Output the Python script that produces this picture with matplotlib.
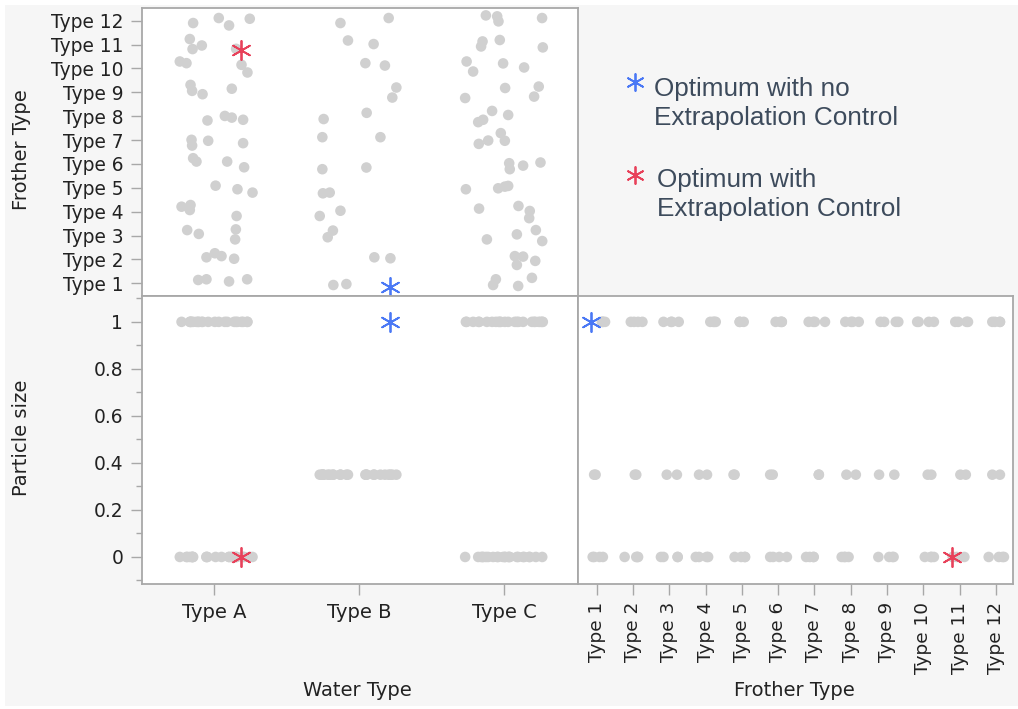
import numpy as np
import matplotlib
matplotlib.use('Agg')
import matplotlib.pyplot as plt
from matplotlib.patches import Rectangle
from matplotlib.ticker import MultipleLocator

# categories
water_types = ['Type A', 'Type B', 'Type C']
frother_types = ['Type %d' % i for i in range(1, 13)]

# runs per water type: frother level, particle size, and the jitter offsets seen in the plot
a_frother = [12, 12, 12, 12, 11, 11, 11, 11, 10, 10, 10, 10, 9, 9, 9, 9, 8, 8, 8, 8, 7, 7, 7, 7,
             6, 6, 6, 6, 5, 5, 5, 4, 4, 4, 4, 3, 3, 3, 3, 2, 2, 2, 2, 1, 1, 1, 1]
a_particle = [1, 1, 0, 0, 1, 0, 1, 0, 0, 0, 1, 1, 1, 0, 1, 0, 0, 1, 0, 1, 1, 0, 1, 0,
              0, 1, 1, 0, 0, 1, 0, 1, 1, 0, 0, 0, 1, 1, 0, 0, 1, 0, 1, 1, 0, 0, 1]
a_water_jit = [-0.147, 0.030, 0.101, 0.244, -0.170, -0.151, -0.087, 0.150, -0.239, -0.193, 0.187, 0.228,
               -0.165, -0.154, -0.082, 0.120, -0.048, 0.072, 0.120, 0.198, -0.158, -0.154, -0.043, 0.198,
               -0.147, -0.124, 0.088, 0.205, 0.008, 0.159, 0.263, -0.227, -0.165, -0.170, 0.153,
               -0.188, -0.108, 0.148, 0.143, -0.055, 0.003, 0.049, 0.136, -0.112, -0.055, 0.101, 0.226]
a_frother_jit = [-0.10, 0.11, -0.20, 0.08, 0.23, -0.19, -0.04, -0.18, 0.29, 0.22, 0.15, -0.17,
                 0.31, 0.06, -0.08, 0.15, -0.18, 0.01, -0.06, -0.15, 0.01, -0.23, -0.03, -0.13,
                 0.24, 0.10, 0.10, -0.14, 0.09, -0.06, -0.20, 0.21, 0.28, 0.07, -0.18,
                 0.23, 0.07, 0.26, -0.16, 0.09, 0.26, 0.14, 0.03, 0.14, 0.17, 0.08, 0.17]

b_frother = [12, 12, 11, 11, 10, 10, 9, 9, 8, 8, 7, 7, 6, 6, 5, 5, 4, 4, 3, 3, 2, 2, 1, 1]
b_particle = [0.35, 0.35, 0.35, 0.35, 0.35, 0.35, 0.35, 0.35, 0.35, 0.35, 0.35, 0.35,
              0.35, 0.35, 0.35, 0.35, 0.35, 0.35, 0.35, 0.35, 0.35, 0.35, 0.35, 0.35]
b_water_jit = [-0.130, 0.203, -0.078, 0.099, 0.042, 0.177, 0.256, 0.228, 0.051, -0.246, -0.255, 0.146,
               -0.255, 0.049, -0.251, -0.204, -0.273, -0.130, -0.182, -0.218, 0.104, 0.215, -0.179, -0.089]
b_frother_jit = [-0.10, 0.11, 0.17, 0.02, 0.22, 0.12, 0.20, -0.22, 0.14, -0.12, 0.12, 0.12,
                 -0.22, -0.15, -0.23, -0.20, -0.18, 0.04, 0.21, -0.07, 0.09, 0.05, -0.07, -0.03]

c_frother = [12, 12, 12, 12, 11, 11, 11, 11, 10, 10, 10, 10, 9, 9, 9, 9, 8, 8, 8, 8, 7, 7, 7, 7,
             6, 6, 6, 6, 5, 5, 5, 5, 4, 4, 4, 4, 3, 3, 3, 3, 2, 2, 2, 2, 1, 1, 1, 1]
c_particle = [0, 0, 1, 1, 0, 0, 1, 1, 1, 1, 0, 0, 1, 1, 0, 0, 1, 1, 0, 0, 1, 0, 0, 1,
              0, 0, 1, 1, 1, 0, 1, 0, 1, 1, 0, 0, 1, 1, 0, 0, 1, 0, 0, 1, 1, 0, 0, 1]
c_water_jit = [-0.126, -0.048, -0.039, 0.262, -0.149, -0.159, -0.030, 0.267, -0.259, -0.214, -0.007, 0.138,
               0.239, 0.207, 0.007, -0.269, -0.083, 0.028, -0.145, -0.179, -0.023, 0.005, -0.110, -0.175,
               0.035, 0.039, 0.131, 0.251, -0.264, -0.041, 0.005, 0.028, -0.173, 0.099, 0.177, 0.173,
               -0.119, 0.088, 0.219, 0.263, 0.074, 0.131, 0.088, 0.215, -0.057, -0.076, 0.097, 0.192]
c_frother_jit = [0.22, 0.18, -0.03, 0.11, 0.13, -0.08, 0.19, -0.12, 0.29, -0.13, 0.21, 0.04,
                 0.24, -0.18, 0.18, -0.24, 0.22, 0.05, -0.15, -0.25, 0.29, -0.03, -0.02, -0.16,
                 0.03, -0.22, -0.07, 0.06, -0.06, -0.02, 0.05, 0.08, 0.13, 0.24, 0.03, -0.27,
                 -0.16, 0.05, 0.23, -0.23, 0.14, 0.12, -0.23, -0.06, 0.17, -0.07, -0.11, 0.23]

# the two optima
opt_labels = ['Optimum with no\nExtrapolation Control', 'Optimum with\nExtrapolation Control']
opt_water = ['Type B', 'Type A']
opt_frother = [1, 11]
opt_particle = [1, 0]
opt_water_jit = [0.215, 0.185]
opt_frother_jit = [-0.15, -0.21]
opt_colors = ['#4a78f5', '#e8415a']

# gather runs
runs = [('Type A', a_frother, a_particle, a_water_jit, a_frother_jit),
        ('Type B', b_frother, b_particle, b_water_jit, b_frother_jit),
        ('Type C', c_frother, c_particle, c_water_jit, c_frother_jit)]
wx, fy, ps = [], [], []
for wname, fr, pa, wj, fj in runs:
    wx += list(water_types.index(wname) + np.array(wj))
    fy += list(np.array(fr) + np.array(fj))
    ps += list(pa)
wx = np.array(wx)
fy = np.array(fy)
ps = np.array(ps)

ow = np.array([water_types.index(w) for w in opt_water]) + np.array(opt_water_jit)
of = np.array(opt_frother) + np.array(opt_frother_jit)

W, H = 1018, 709
fig = plt.figure(figsize=(W / 100, H / 100), dpi=100, facecolor='white')
fig.patches.append(Rectangle((5 / W, 3 / H), 1, 1 - 8 / H, transform=fig.transFigure,
                             facecolor='#f6f6f6', edgecolor='none', zorder=-10))


def px_axes(l, r, t, b):
    return fig.add_axes([l / W, 1 - b / H, (r - l) / W, (b - t) / H])


ax_tl = px_axes(142, 578, 8, 296)
ax_bl = px_axes(142, 578, 296, 584)
ax_br = px_axes(578, 1013, 296, 584)

dot = dict(s=58, color='#d0d0d0', edgecolors='none', zorder=2)
star = dict(marker=(6, 2, 0), s=190, linewidths=1.3, zorder=5)
tick_col = '#222222'

for ax in (ax_tl, ax_bl, ax_br):
    ax.set_facecolor('white')
    for sp in ax.spines.values():
        sp.set_color('#a8a8a8')
        sp.set_linewidth(1.3)
    ax.tick_params(which='major', length=8, width=1, color='#a8a8a8', pad=5.5,
                   labelsize=13.4, labelcolor=tick_col)
    ax.tick_params(which='minor', length=4, width=1, color='#a8a8a8')

# top-left: water vs frother
ax_tl.scatter(wx, fy, **dot)
for i in range(2):
    ax_tl.scatter(ow[i], of[i], color=opt_colors[i], **star)
ax_tl.set_xlim(-0.5, 2.51)
ax_tl.set_ylim(0.47, 12.53)
ax_tl.set_xticks([])
ax_tl.set_yticks(range(1, 13))
ax_tl.set_yticklabels(frother_types)

# bottom-left: water vs particle size
ax_bl.scatter(wx, ps, **dot)
for i in range(2):
    ax_bl.scatter(ow[i], opt_particle[i], color=opt_colors[i], **star)
ax_bl.set_xlim(-0.5, 2.51)
ax_bl.set_ylim(-0.115, 1.11)
ax_bl.set_xticks(range(3))
ax_bl.set_xticklabels(water_types, fontsize=14)
ax_bl.set_yticks([0, 0.2, 0.4, 0.6, 0.8, 1])
ax_bl.set_yticklabels(['0', '0.2', '0.4', '0.6', '0.8', '1'])
ax_bl.yaxis.set_minor_locator(MultipleLocator(0.1))

# bottom-right: frother vs particle size
ax_br.scatter(fy, ps, **dot)
for i in range(2):
    ax_br.scatter(of[i], opt_particle[i], color=opt_colors[i], **star)
ax_br.set_xlim(0.485, 12.47)
ax_br.set_ylim(-0.115, 1.11)
ax_br.set_yticks([])
ax_br.set_xticks(range(1, 13))
ax_br.set_xticklabels(frother_types, rotation=90, va='top', ha='center', fontsize=13.3)
ax_br.tick_params(axis='x', pad=5)

# axis titles
lab = dict(fontsize=14, color='#222222')
fig.text(22 / W, 1 - 150 / H, 'Frother Type', rotation=90, ha='center', va='center', **lab)
fig.text(22 / W, 1 - 438 / H, 'Particle size', rotation=90, ha='center', va='center', **lab)
fig.text(357 / W, 1 - 690 / H, 'Water Type', ha='center', va='center', **lab)
fig.text(794 / W, 1 - 690 / H, 'Frother Type', ha='center', va='center', **lab)

# legend in the empty corner
leg_star_y = [82, 175]
leg_text_top = [77, 168]
leg_text_x = [654, 657]
for i in range(2):
    lx = fig.add_axes([620 / W, 1 - (leg_star_y[i] + 12) / H, 30 / W, 24 / H])
    lx.axis('off')
    lx.set_xlim(0, 1)
    lx.set_ylim(0, 1)
    lx.scatter([0.5], [0.5], color=opt_colors[i], marker=(6, 2, 0), s=150, linewidths=1.3)
    fig.text(leg_text_x[i] / W, 1 - leg_text_top[i] / H, opt_labels[i], family='Liberation Sans',
             fontsize=18.8, color='#3d4b5c', ha='left', va='top', linespacing=1.27)

fig.savefig('out.png', dpi=100, facecolor=fig.get_facecolor())
